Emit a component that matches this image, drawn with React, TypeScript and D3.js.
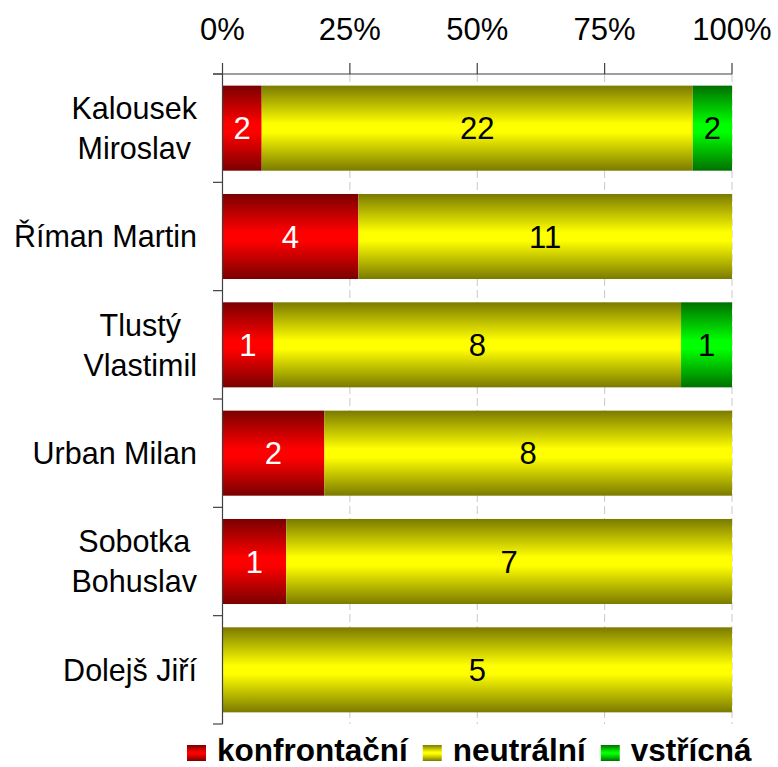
import React from "react";
import * as d3 from "d3";

const categories: string[][] = [
  ["Kalousek", "Miroslav"],
  ["Říman Martin"],
  ["Tlustý", "Vlastimil"],
  ["Urban Milan"],
  ["Sobotka", "Bohuslav"],
  ["Dolejš Jiří"],
];
const konfrontacni = [2, 4, 1, 2, 1, 0];
const neutralni = [22, 11, 8, 8, 7, 5];
const vstricna = [2, 0, 1, 0, 0, 0];
const seriesNames = ["konfrontační", "neutrální", "vstřícná"];
const tickValues = [0, 0.25, 0.5, 0.75, 1];

const W = 778;
const H = 767;
const FONT = "'Liberation Sans', Arial, sans-serif";
const FS = 31;
const CFS = 30.5;
const LFS = 31.5;

const grads = [
  { id: "gRed", dark: "#7a0000", bright: "#ff0000" },
  { id: "gYel", dark: "#7a7a00", bright: "#ffff00" },
  { id: "gGrn", dark: "#007000", bright: "#00ff00" },
];
const labelColors = ["#ffffff", "#000000", "#000000"];

function measure(text: string, font: string): number {
  const c = document.createElement("canvas").getContext("2d");
  if (!c) return text.length * 15;
  c.font = font;
  return c.measureText(text).width;
}

export default function App() {
  const left = 222.5;
  const right = 732;
  const top = 74;
  const bottom = 724;
  const x = d3.scaleLinear().domain([0, 1]).range([left, right]);
  const keys = categories.map((c) => c.join(" "));
  const y = d3
    .scaleBand<string>()
    .domain(keys)
    .range([top, bottom])
    .paddingInner(0.215)
    .paddingOuter(0.1075);
  const step = y.step();

  const rows = keys.map((k, i) => {
    const vals = [konfrontacni[i], neutralni[i], vstricna[i]];
    const total = d3.sum(vals);
    let acc = 0;
    const segs = vals.map((v, j) => {
      const s = { j, v, x0: acc / total, x1: (acc + v) / total };
      acc += v;
      return s;
    });
    return { k, i, segs };
  });

  const labelRight = 197;
  const lineH = 40;

  // legend layout
  const legendFont = `bold ${LFS}px ${FONT}`;
  const swW = 19;
  const swH = 16;
  const legendBase = 761;
  let lx = 187;
  const legendItems = seriesNames.map((n, j) => {
    const item = { n, j, x: lx };
    lx += swW + 11 + measure(n, legendFont) + 15;
    return item;
  });

  return (
    <svg width={W} height={H} style={{ position: "absolute", left: 0, top: 0 }}>
      <defs>
        {grads.map((g) => (
          <linearGradient key={g.id} id={g.id} x1="0" y1="0" x2="0" y2="1">
            <stop offset="0" stopColor={g.dark} />
            <stop offset="0.45" stopColor={g.bright} />
            <stop offset="0.55" stopColor={g.bright} />
            <stop offset="1" stopColor={g.dark} />
          </linearGradient>
        ))}
      </defs>
      <rect x={0} y={0} width={W} height={H} fill="#fff" />
      {/* gridlines */}
      {tickValues.slice(1).map((t) => (
        <line
          key={t}
          x1={x(t)}
          x2={x(t)}
          y1={top}
          y2={bottom}
          stroke="#c8c8c8"
          strokeWidth={1}
          strokeDasharray="8,4"
        />
      ))}
      {/* bars */}
      {rows.map((r) => (
        <g key={r.k}>
          {r.segs
            .filter((s) => s.v > 0)
            .map((s) => (
              <rect
                key={s.j}
                x={x(s.x0)}
                y={y(r.k)}
                width={x(s.x1) - x(s.x0)}
                height={y.bandwidth()}
                fill={`url(#${grads[s.j].id})`}
              />
            ))}
          {r.segs
            .filter((s) => s.v > 0)
            .map((s) => (
              <text
                key={"t" + s.j}
                x={(x(s.x0) + x(s.x1)) / 2}
                y={(y(r.k) as number) + y.bandwidth() / 2}
                dy="0.36em"
                textAnchor="middle"
                fontFamily={FONT}
                fontSize={FS}
                fill={labelColors[s.j]}
              >
                {s.v}
              </text>
            ))}
        </g>
      ))}
      {/* top axis */}
      <line x1={213} x2={right} y1={top} y2={top} stroke="#404040" strokeWidth={1.2} />
      {tickValues.map((t) => (
        <g key={t}>
          <line x1={x(t)} x2={x(t)} y1={top - 11} y2={top} stroke="#404040" strokeWidth={1.2} />
          <text
            x={x(t)}
            y={40}
            textAnchor="middle"
            fontFamily={FONT}
            fontSize={FS}
            fill="#000"
          >
            {d3.format(".0%")(t)}
          </text>
        </g>
      ))}
      {/* left axis */}
      <line x1={left} x2={left} y1={top} y2={bottom} stroke="#404040" strokeWidth={1.2} />
      {d3.range(keys.length + 1).map((i) => (
        <line
          key={i}
          x1={213}
          x2={left}
          y1={top + i * step}
          y2={top + i * step}
          stroke="#404040"
          strokeWidth={1.2}
        />
      ))}
      {/* category labels */}
      {categories.map((lines, i) => {
        const font = `${CFS}px ${FONT}`;
        const maxW = d3.max(lines, (l) => measure(l, font)) as number;
        const cx = labelRight - maxW / 2;
        const cy = (y(keys[i]) as number) + y.bandwidth() / 2;
        return (
          <text
            key={i}
            textAnchor="middle"
            fontFamily={FONT}
            fontSize={CFS}
            fill="#000"
          >
            {lines.map((l, li) => (
              <tspan
                key={li}
                x={cx}
                y={cy + (li - (lines.length - 1) / 2) * lineH}
                dy="0.36em"
              >
                {l}
              </tspan>
            ))}
          </text>
        );
      })}
      {/* legend */}
      {legendItems.map((it) => (
        <g key={it.n}>
          <rect
            x={it.x}
            y={745}
            width={swW}
            height={swH}
            fill={`url(#${grads[it.j].id})`}
          />
          <text
            x={it.x + swW + 11}
            y={legendBase}
            fontFamily={FONT}
            fontSize={LFS}
            fontWeight="bold"
            fill="#000"
          >
            {it.n}
          </text>
        </g>
      ))}
    </svg>
  );
}
